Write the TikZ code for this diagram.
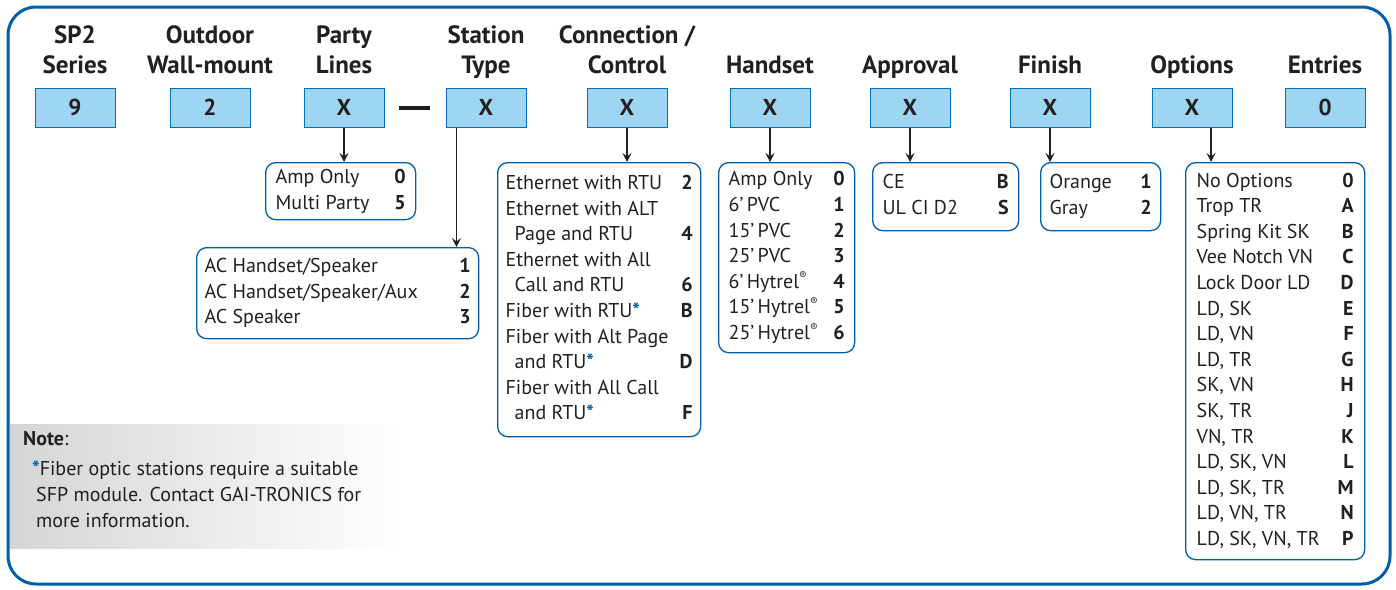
\documentclass[tikz,border=0pt]{standalone}
\usepackage{fontspec}
\setmainfont{PT Sans}
\usetikzlibrary{positioning,calc,arrows.meta}
\definecolor{gaiblue}{RGB}{0,94,170}
\definecolor{boxfill}{RGB}{157,213,242}
\definecolor{boxline}{RGB}{0,112,186}
\definecolor{inkgray}{RGB}{35,31,32}
\definecolor{notegray}{RGB}{212,213,215}
\newcommand{\bodyfont}{\fontsize{20}{25.6}\selectfont}
\newcommand{\optrows}[2]{\begin{tabular*}{#1}{@{}l@{\extracolsep{\fill}}r@{}}#2\end{tabular*}}
\newcommand{\fib}{\textcolor{gaiblue}{\textbf{*}}}
\newcommand{\regmark}{\raisebox{0.42em}{\fontsize{11}{11}\selectfont ®}}
\newcommand{\ind}{\hspace*{9pt}}
\tikzset{
  hdr/.style={font=\fontsize{25}{30}\selectfont\bfseries, align=center, inner sep=0pt, text depth=0pt, text=inkgray},
  codebox/.style={draw=boxline, fill=boxfill, line width=1pt, minimum width=80pt, minimum height=39pt,
    font=\fontsize{23}{23}\selectfont\bfseries, inner sep=0pt, text=inkgray},
  optbox/.style={draw=gaiblue, line width=1.3pt, rounded corners=10pt, inner xsep=10pt, inner ysep=0pt,
    anchor=north west, font=\bodyfont, text=inkgray},
  arr/.style={-{Stealth[length=9pt,width=9pt,inset=3.5pt]}, line width=1.1pt, draw=inkgray},
}
\begin{document}
\begin{tikzpicture}[x=1pt, y=-1pt]
\useasboundingbox (0,0) rectangle (1396,589);
\draw [gaiblue, line width=3pt, rounded corners=28pt] (8,7) rectangle (1390,584);

% code boxes along the top
\node[codebox] (series)  at (75,107.5)   {9};
\node[codebox] (wall)    at (210,107.5)  {2};
\node[codebox] (partyx)  at (344,107.5)  {X};
\node[codebox] (stationx) at (486,107.5) {X};
\node[codebox] (connx)   at (627,107.5)  {X};
\node[codebox] (handx)   at (770,107.5)  {X};
\node[codebox] (apprx)   at (910,107.5)  {X};
\node[codebox] (finx)    at (1050,107.5) {X};
\node[codebox] (optx)    at (1192,107.5) {X};
\node[codebox] (entries) at (1325,107.5) {0};
\node[text=inkgray, inner sep=0pt] (dash) at (414,108) {\rule{31pt}{3.2pt}};

% headings
\node[hdr, above=14pt of series]   {SP2\\Series};
\node[hdr, above=14pt of wall]     {Outdoor\\Wall-mount};
\node[hdr, above=14pt of partyx]   {Party\\Lines};
\node[hdr, above=14pt of stationx] {Station\\Type};
\node[hdr, above=14pt of connx]    {Connection /\\Control};
\node[hdr, above=14pt of handx]    {Handset};
\node[hdr, above=14pt of apprx]    {Approval};
\node[hdr, above=14pt of finx]     {Finish};
\node[hdr, above=14pt of optx]     {Options};
\node[hdr, above=14pt of entries]  {Entries};

% option lists
\node[optbox, minimum width=150pt, minimum height=57pt] (partybox) at (265,162)
  {\optrows{130pt}{Amp Only & \textbf{0}\\ Multi Party & \textbf{5}}};
\node[optbox, minimum width=282pt, minimum height=91pt, inner xsep=8pt] (acbox) at (196,247)
  {\optrows{266pt}{AC Handset/Speaker & \textbf{1}\\ AC Handset/Speaker/Aux & \textbf{2}\\ AC Speaker & \textbf{3}}};
\node[optbox, minimum width=203pt, minimum height=274pt, inner xsep=8pt] (connbox) at (497,162)
  {\optrows{187pt}{Ethernet with RTU & \textbf{2}\\
    Ethernet with ALT & \\
    \ind Page and RTU & \textbf{4}\\
    Ethernet with All & \\
    \ind Call and RTU & \textbf{6}\\
    Fiber with RTU\fib & \textbf{B}\\
    Fiber with Alt Page & \\
    \ind and RTU\fib & \textbf{D}\\
    Fiber with All Call & \\
    \ind and RTU\fib & \textbf{F}}};
\node[optbox, minimum width=136pt, minimum height=190pt] (handbox) at (718,162)
  {\optrows{116pt}{Amp Only & \textbf{0}\\
    6’\,PVC & \textbf{1}\\
    15’\,PVC & \textbf{2}\\
    25’\,PVC & \textbf{3}\\
    6’\,Hytrel\regmark & \textbf{4}\\
    15’\,Hytrel\regmark & \textbf{5}\\
    25’\,Hytrel\regmark & \textbf{6}}};
\node[optbox, minimum width=146pt, minimum height=68pt] (apprbox) at (872,162)
  {\optrows{126pt}{CE & \textbf{B}\\ UL CI D2 & \textbf{S}}};
\node[optbox, minimum width=120pt, minimum height=68pt, inner xsep=9pt] (finbox) at (1040,162)
  {\optrows{102pt}{Orange & \textbf{1}\\ Gray & \textbf{2}}};
\node[optbox, minimum width=179pt, minimum height=397pt, inner xsep=11pt] (optbox) at (1185,162)
  {\optrows{157pt}{No Options & \textbf{0}\\
    Trop TR & \textbf{A}\\
    Spring Kit SK & \textbf{B}\\
    Vee Notch VN & \textbf{C}\\
    Lock Door LD & \textbf{D}\\
    LD, SK & \textbf{E}\\
    LD, VN & \textbf{F}\\
    LD, TR & \textbf{G}\\
    SK, VN & \textbf{H}\\
    SK, TR & \textbf{J}\\
    VN, TR & \textbf{K}\\
    LD, SK, VN & \textbf{L}\\
    LD, SK, TR & \textbf{M}\\
    LD, VN, TR & \textbf{N}\\
    LD, SK, VN, TR & \textbf{P}}};

% arrows
\coordinate (stdrop) at ($(stationx.south west)+(11,0)$);
\coordinate (optdrop) at ($(optx.south)+(19,0)$);
\draw[arr] (partyx.south) -- (partyx.south |- partybox.north);
\draw[arr] (stdrop) -- (stdrop |- acbox.north);
\draw[arr] (connx.south) -- (connx.south |- connbox.north);
\draw[arr] (handx.south) -- (handx.south |- handbox.north);
\draw[arr] (apprx.south) -- (apprx.south |- apprbox.north);
\draw[arr] (finx.south) -- (finx.south |- finbox.north);
\draw[arr] (optdrop) -- (optdrop |- optbox.north);

% note
\shade[left color=notegray, right color=white] (10,424) rectangle (405,548);
\node[anchor=base west, align=left, font=\bodyfont, text=inkgray, inner sep=0pt] (note) at (23,527)
  {\textbf{Note}:\\[5pt]
   \hspace*{9pt}\fib Fiber optic stations require a suitable\\
   \hspace*{13pt}SFP module. Contact GAI-TRONICS for\\
   \hspace*{13pt}more information.};
\end{tikzpicture}
\end{document}
